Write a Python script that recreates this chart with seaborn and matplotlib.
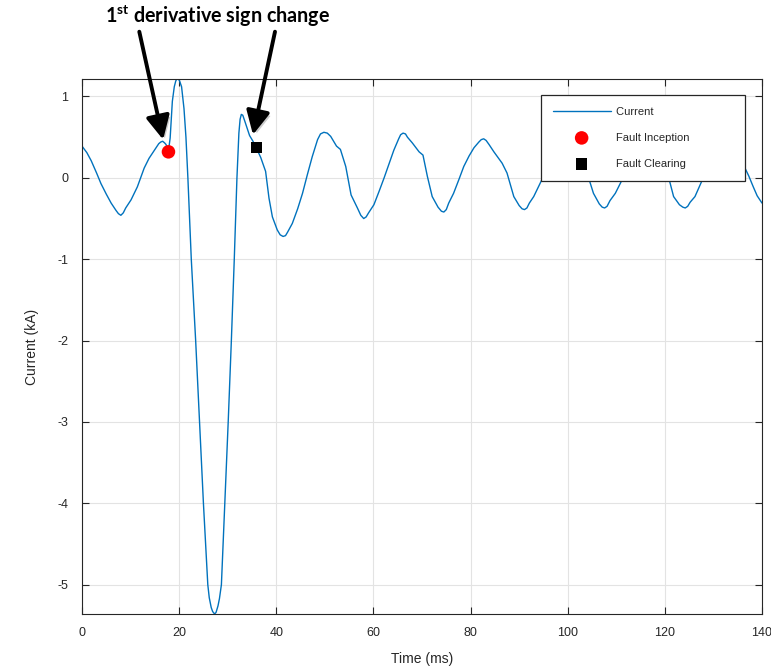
import numpy as np
import pandas as pd
import matplotlib
matplotlib.use("Agg")
import matplotlib.pyplot as plt
import matplotlib.patheffects as pe
import seaborn as sns

# -------------------------
# DATA
# -------------------------
time_ms = [
    0.0, 1.0, 1.9, 3.0, 3.9, 5.0, 6.0, 7.0, 7.5, 8.0, 8.5, 9.0, 10.1, 11.4,
    12.8, 13.8, 14.9, 15.8, 16.2, 16.6, 17.0, 17.3, 17.8, 18.15, 18.6, 19.0,
    19.3, 19.55, 19.8, 20.1, 20.5, 21.0, 21.4, 21.8, 22.5, 23.4, 24.2, 25.0,
    25.9, 26.2, 26.6, 26.9, 27.3, 27.6, 28.0, 28.3, 28.7, 29.4, 30.1, 30.75,
    31.35, 31.9, 32.3, 32.55, 32.8, 33.1, 33.5, 34.5, 35.2, 35.8, 36.8, 37.8,
    38.5, 39.2, 40.2, 40.8, 41.4, 41.9, 42.3, 43.3, 44.4, 45.4, 46.4, 47.4,
    48.5, 49.1, 49.8, 50.5, 51.2, 52.4, 53.2, 54.3, 55.4, 56.7, 57.4, 58.0,
    58.5, 59.0, 60.1, 61.2, 62.2, 63.2, 64.2, 65.2, 65.6, 66.1, 66.6, 67.0,
    68.0, 69.4, 70.2, 71.1, 72.1, 73.3, 74.0, 74.5, 75.0, 75.5, 76.5, 77.6,
    78.6, 79.7, 80.7, 81.7, 82.2, 82.7, 83.2, 83.8, 84.8, 86.5, 87.5, 88.9,
    90.0, 90.6, 91.1, 91.6, 92.1, 93.0, 94.7, 96.0, 97.5, 98.6, 99.2, 99.8,
    100.5, 102.0, 103.2, 104.3, 105.3, 106.5, 107.1, 107.6, 108.1, 108.7,
    109.8, 111.4, 112.7, 114.2, 115.2, 115.8, 116.4, 117.0, 118.5, 119.8,
    120.8, 121.8, 123.0, 123.7, 124.2, 124.7, 125.2, 126.2, 127.9, 129.2,
    130.7, 131.7, 132.3, 132.9, 133.5, 135.0, 136.5, 137.3, 138.2, 139.0,
    140.0,
]
current_ka = [
    0.39, 0.31, 0.21, 0.06, -0.07, -0.20, -0.31, -0.40, -0.44, -0.46, -0.43,
    -0.37, -0.27, -0.11, 0.12, 0.24, 0.34, 0.42, 0.44, 0.45, 0.43, 0.41,
    0.33, 0.49, 0.94, 1.12, 1.19, 1.22, 1.22, 1.19, 1.12, 0.85, 0.50, 0.0,
    -1.0, -2.0, -3.0, -4.0, -5.0, -5.16, -5.28, -5.33, -5.36, -5.34, -5.26,
    -5.17, -5.0, -4.0, -3.0, -2.0, -1.0, 0.0, 0.55, 0.72, 0.78, 0.77, 0.70,
    0.52, 0.45, 0.38, 0.25, 0.08, -0.25, -0.48, -0.64, -0.70, -0.72, -0.71,
    -0.67, -0.56, -0.38, -0.19, 0.04, 0.26, 0.47, 0.54, 0.56, 0.55, 0.51,
    0.39, 0.35, 0.14, -0.21, -0.37, -0.46, -0.50, -0.48, -0.43, -0.33, -0.16,
    0.0, 0.17, 0.34, 0.48, 0.53, 0.55, 0.54, 0.50, 0.43, 0.32, 0.28, 0.02,
    -0.23, -0.36, -0.41, -0.42, -0.39, -0.31, -0.19, -0.02, 0.14, 0.27, 0.37,
    0.44, 0.47, 0.48, 0.46, 0.41, 0.32, 0.18, 0.06, -0.23, -0.34, -0.38,
    -0.39, -0.37, -0.31, -0.23, -0.02, 0.17, 0.34, 0.43, 0.46, 0.44, 0.40,
    0.30, 0.17, 0.0, -0.19, -0.32, -0.36, -0.37, -0.35, -0.28, -0.19, 0.0,
    0.18, 0.35, 0.43, 0.45, 0.43, 0.39, 0.29, 0.15, 0.0, -0.23, -0.33, -0.36,
    -0.37, -0.35, -0.30, -0.23, 0.0, 0.18, 0.35, 0.43, 0.45, 0.43, 0.39,
    0.28, 0.12, 0.02, -0.11, -0.22, -0.31,
]

inception_t = [17.8]
inception_i = [0.32]
clearing_t = [35.9]
clearing_i = [0.375]

x_ticks = [0, 20, 40, 60, 80, 100, 120, 140]
y_ticks = [-5, -4, -3, -2, -1, 0, 1]

# arrow tips (data) for the annotation
arrow_tips = [(16.7, 0.47), (35.2, 0.53)]

df = pd.DataFrame({"t": time_ms, "i": current_ka})

# -------------------------
# STYLE
# -------------------------
sns.set_style("ticks")
plt.rcParams["font.family"] = ["Liberation Sans", "DejaVu Sans"]
plt.rcParams["axes.unicode_minus"] = False
plt.rcParams["xtick.direction"] = "in"
plt.rcParams["ytick.direction"] = "in"
plt.rcParams["xtick.top"] = True
plt.rcParams["ytick.right"] = True
plt.rcParams["mathtext.fontset"] = "custom"
plt.rcParams["mathtext.rm"] = "Lato"
plt.rcParams["mathtext.bf"] = "Lato:bold"

fig = plt.figure(figsize=(7.71, 6.67), dpi=100)
ax = fig.add_axes([82 / 771, 53 / 667, 680 / 771, 535 / 667])

sns.lineplot(data=df, x="t", y="i", ax=ax, color="#0072BD", lw=1.0,
             label="Current", sort=False)
sns.scatterplot(x=inception_t, y=inception_i, ax=ax, color="red", marker="o",
                s=95, edgecolor="none", label="Fault Inception", zorder=5)
sns.scatterplot(x=clearing_t, y=clearing_i, ax=ax, color="black", marker="s",
                s=70, edgecolor="none", label="Fault Clearing", zorder=5)

ax.set_xlim(0, 140)
ax.set_ylim(-5.36, 1.215)
ax.set_xticks(x_ticks)
ax.set_yticks(y_ticks)
ax.grid(True, color="#e3e3e3", lw=0.8)
ax.set_axisbelow(True)
for sp in ax.spines.values():
    sp.set_color("#262626")
    sp.set_linewidth(0.8)
ax.tick_params(colors="#262626", labelsize=9, length=5, width=0.8)
ax.tick_params(axis="x", pad=9)
ax.tick_params(axis="y", pad=10)
ax.set_xlabel("Time (ms)", fontsize=10, color="#262626", labelpad=10)
ax.set_ylabel("Current (kA)", fontsize=10, color="#262626", labelpad=13)

h, l = ax.get_legend_handles_labels()
leg = ax.legend(h, [s + "\u00a0" * 14 for s in l], loc="upper right",
                bbox_to_anchor=(0.975, 0.970), borderaxespad=0,
                fontsize=8, handlelength=5.2, handletextpad=0.5,
                labelspacing=1.45, borderpad=1.05, fancybox=False,
                framealpha=1, edgecolor="#262626", facecolor="white")
leg.get_frame().set_linewidth(0.9)

# annotation above the axes
fig.text(217.5 / 771, 1 - 16 / 667, r"1$^{\mathbf{st}}$ derivative sign change",
         ha="center", va="center", fontsize=14.2, fontweight="bold",
         family="Lato", color="black")
tails = [(139.3, 667 - 31.7), (275.0, 667 - 31.7)]
for (tx, ty), tip in zip(tails, arrow_tips):
    a = ax.annotate("", xy=tip, xytext=(tx, ty), textcoords="figure pixels",
                    annotation_clip=False,
                    arrowprops=dict(arrowstyle="-|>,head_length=1.3,head_width=0.65",
                                    mutation_scale=11, lw=2.8, color="black",
                                    shrinkA=0, shrinkB=0))
    a.arrow_patch.set_path_effects([
        pe.SimplePatchShadow(offset=(2, -2), shadow_rgbFace="0.5", alpha=0.4),
        pe.Normal()])

fig.savefig("out.png", dpi=100)
